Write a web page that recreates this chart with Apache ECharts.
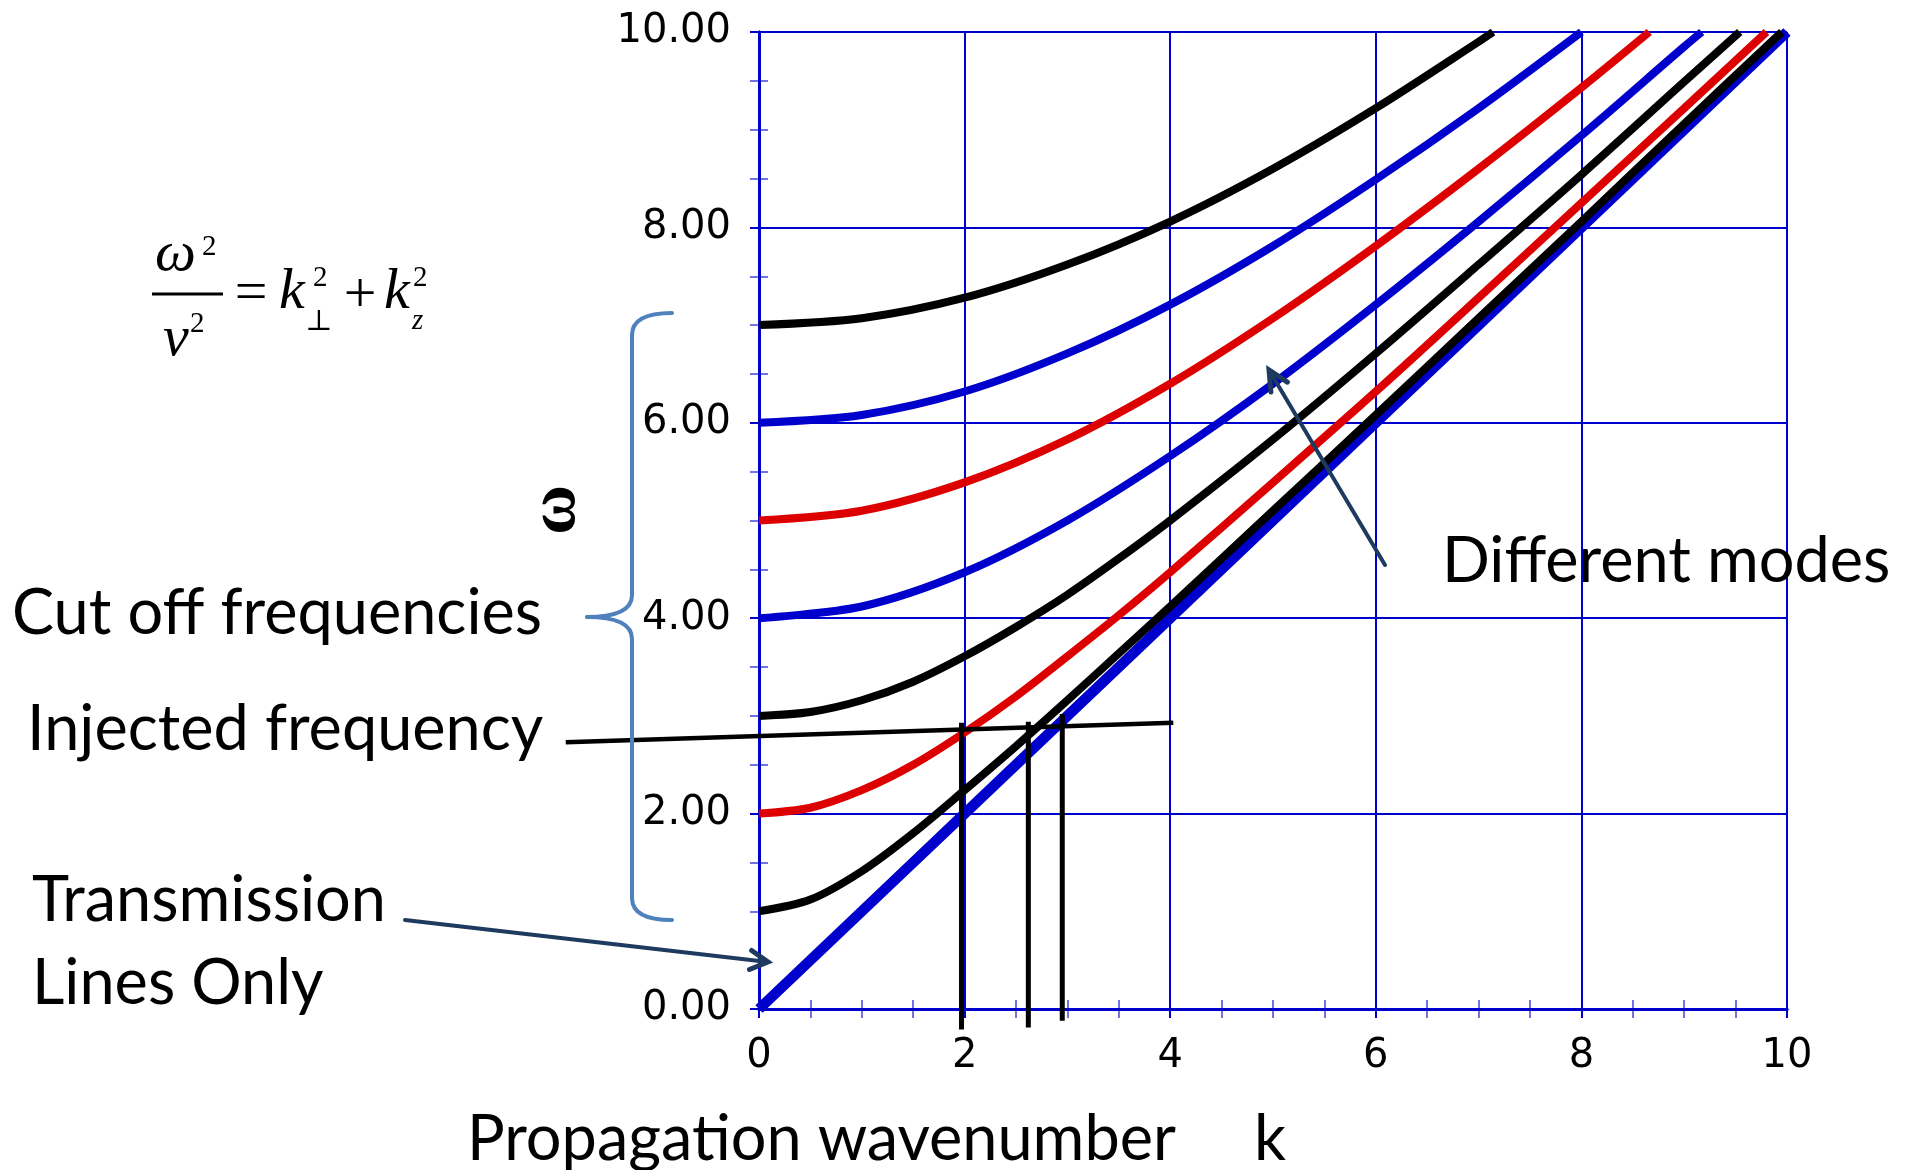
<!DOCTYPE html>
<html><head><meta charset="utf-8">
<script src="https://cdn.jsdelivr.net/npm/echarts@6/dist/echarts.min.js"></script>
<style>html,body{margin:0;padding:0;background:#fff}#c{width:1913px;height:1170px}</style>
</head><body><div id="c"></div>
<script>
// ---- data ----
const mode0K = [0, 2, 4, 6, 8, 10];
const mode0W = [0, 2, 4, 6, 8, 10];
const mode1K = [0, 0.5, 1, 1.5, 2, 2.5, 3, 3.5, 4, 5, 6, 7, 8, 9, 9.95];
const mode1W = [1, 1.12, 1.41, 1.80, 2.24, 2.69, 3.16, 3.64, 4.12, 5.10, 6.08, 7.07, 8.06, 9.06, 10];
const mode2K = [0, 0.5, 1, 1.5, 2, 2.5, 3, 3.5, 4, 5, 6, 7, 8, 9, 9.8];
const mode2W = [2, 2.06, 2.24, 2.50, 2.83, 3.20, 3.61, 4.03, 4.47, 5.39, 6.32, 7.28, 8.25, 9.22, 10];
const mode3K = [0, 0.5, 1, 1.5, 2, 2.5, 3, 3.5, 4, 5, 6, 7, 8, 9, 9.54];
const mode3W = [3, 3.04, 3.16, 3.35, 3.61, 3.91, 4.24, 4.61, 5.00, 5.83, 6.71, 7.62, 8.54, 9.49, 10];
const mode4K = [0, 1, 2, 3, 4, 5, 6, 7, 8, 9, 9.17];
const mode4W = [4, 4.12, 4.47, 5.00, 5.66, 6.40, 7.21, 8.06, 8.94, 9.85, 10];
const mode5K = [0, 1, 2, 3, 4, 5, 6, 7, 8, 8.66];
const mode5W = [5, 5.10, 5.39, 5.83, 6.40, 7.07, 7.81, 8.60, 9.43, 10];
const mode6K = [0, 1, 2, 3, 4, 5, 6, 7, 8];
const mode6W = [6, 6.08, 6.32, 6.71, 7.21, 7.81, 8.49, 9.22, 10];
const mode7K = [0, 1, 2, 3, 4, 5, 6, 7, 7.14];
const mode7W = [7, 7.07, 7.28, 7.62, 8.06, 8.60, 9.22, 9.90, 10];
const modeColors = ['#0000CC', '#000000', '#DD0000', '#000000', '#0000CC', '#DD0000', '#0000CC', '#000000'];

// injected frequency line and the three wavenumber markers
const injK = [-1.88, 4.03];
const injW = [2.73, 2.93];
const markK = [1.97, 2.62, 2.95];
const markTop = [2.93, 2.94, 3.02];
const markBottom = [-0.21, -0.19, -0.12];

const xMin = 0, xMax = 10, xStep = 2;
const yMin = 0, yMax = 10, yStep = 2;

// ---- build ----
const modesK = [mode0K, mode1K, mode2K, mode3K, mode4K, mode5K, mode6K, mode7K];
const modesW = [mode0W, mode1W, mode2W, mode3W, mode4W, mode5W, mode6W, mode7W];
const pair = (a, b) => a.map((v, i) => [v, b[i]]);

const BLUE = '#0000CC';
const series = modesK.map((ks, i) => ({
  type: 'line', name: 'mode' + i, data: pair(ks, modesW[i]),
  smooth: 0.3, showSymbol: false, symbol: 'none', clip: false,
  lineStyle: { color: modeColors[i], width: i === 0 ? 10.5 : 8 }, z: 3
}));
markK.forEach((k, i) => series.push({
  type: 'line', data: [[k, markTop[i]], [k, markBottom[i]]], showSymbol: false, symbol: 'none', clip: false,
  lineStyle: { color: '#000', width: 5 }, z: 5
}));

const tickFont = { fontFamily: 'DejaVu Sans', fontSize: 40, color: '#000' };
const mirrorAxis = {
  axisLine: { show: true, lineStyle: { color: BLUE, width: 3 } },
  axisTick: { show: true, inside: true, length: 9, lineStyle: { color: BLUE, width: 2 } },
  minorTick: { show: true, splitNumber: 4, length: 9, lineStyle: { color: 'rgba(0,0,204,0.55)', width: 2 } },
  axisLabel: { show: false }, splitLine: { show: false }
};

function arrow(x1, y1, x2, y2, len, ang, color, w) {
  const a = Math.atan2(y2 - y1, x2 - x1);
  const p1 = [x2 - len * Math.cos(a - ang), y2 - len * Math.sin(a - ang)];
  const p2 = [x2 - len * Math.cos(a + ang), y2 - len * Math.sin(a + ang)];
  return [
    { type: 'line', shape: { x1, y1, x2, y2 }, style: { stroke: color, lineWidth: w, lineCap: 'round' }, z: 20 },
    { type: 'polyline', shape: { points: [p1, [x2, y2], p2] }, style: { stroke: color, lineWidth: w + 1, fill: null, lineJoin: 'miter', lineCap: 'round' }, z: 20 }
  ];
}
const SANS = 'Lato';
const SERIF = '"Liberation Serif", "DejaVu Serif", serif';
function txt(text, x, y, size, opts) {
  return { type: 'text', z: 20, style: Object.assign({
    text, x, y, fontSize: size, fontFamily: SANS, fill: '#000', align: 'left', verticalAlign: 'middle'
  }, opts || {}) };
}
const braceStyle = { stroke: '#4F81BD', lineWidth: 4, fill: null, lineCap: 'round' };
function bz(x1, y1, cx, cy, x2, y2) {
  return { type: 'bezierCurve', z: 20, shape: { x1, y1, cpx1: cx, cpy1: cy, x2, y2 }, style: braceStyle };
}
function ln(x1, y1, x2, y2) {
  return { type: 'line', z: 20, shape: { x1, y1, x2, y2 }, style: braceStyle };
}

const graphic = [
  // formula
  txt('ω', 155, 255, 58, { fontFamily: SERIF, fontStyle: 'italic' }),
  txt('2', 202, 247, 29, { fontFamily: SERIF }),
  { type: 'line', shape: { x1: 152, y1: 294, x2: 223, y2: 294 }, style: { stroke: '#000', lineWidth: 3 }, z: 20 },
  txt('v', 163, 340, 58, { fontFamily: SERIF, fontStyle: 'italic' }),
  txt('2', 190, 324, 29, { fontFamily: SERIF }),
  txt('=', 251, 295, 58, { fontFamily: SERIF, align: 'center' }),
  txt('k', 279, 293, 58, { fontFamily: SERIF, fontStyle: 'italic' }),
  txt('2', 313, 278, 29, { fontFamily: SERIF }),
  txt('⊥', 319, 322, 29, { fontFamily: SERIF, align: 'center' }),
  txt('+', 360, 297, 58, { fontFamily: SERIF, align: 'center' }),
  txt('k', 384, 293, 58, { fontFamily: SERIF, fontStyle: 'italic' }),
  txt('2', 413, 278, 29, { fontFamily: SERIF }),
  txt('z', 412, 321, 29, { fontFamily: SERIF, fontStyle: 'italic' }),
  // brace
  bz(672, 313, 632, 313, 632, 335),
  ln(632, 335, 632, 595),
  bz(632, 595, 632, 617, 587, 617),
  bz(587, 617, 632, 617, 632, 639),
  ln(632, 639, 632, 898),
  bz(632, 898, 632, 920, 672, 920),
  // labels
  txt('Cut off frequencies', 12, 614, 63),
  txt('Injected frequency', 27, 730, 63),
  txt('Transmission', 32, 901, 63),
  txt('Lines Only', 32, 984, 63),
  txt('Different modes', 1442, 562, 63),
  txt('Propagation wavenumber', 467, 1140, 63),
  txt('k', 1254, 1140, 63),
  { type: 'text', z: 20, x: 556, y: 510, rotation: Math.PI / 2,
    style: { text: 'ω', x: 0, y: 0, fontSize: 68, fontFamily: SERIF, fontWeight: 'bold', fill: '#000', align: 'center', verticalAlign: 'middle' } }
].concat(
  arrow(405, 920, 768, 962, 20, 0.5, '#1F3A5F', 4),
  arrow(1385, 565, 1269, 370, 22, 0.45, '#1F3A5F', 4)
);

const chart = echarts.init(document.getElementById('c'), null, { renderer: 'canvas' });
chart.setOption({
  animation: false,
  backgroundColor: '#fff',
  grid: { left: 759, top: 32, right: 126, bottom: 161, containLabel: false },
  xAxis: [
    { type: 'value', min: xMin, max: xMax, interval: xStep, position: 'bottom',
      axisLine: { show: true, onZero: false, lineStyle: { color: BLUE, width: 3 } },
      axisTick: { show: true, inside: true, length: 9, lineStyle: { color: BLUE, width: 2 } },
      minorTick: { show: true, splitNumber: 4, length: 9, lineStyle: { color: 'rgba(0,0,204,0.55)', width: 2 } },
      axisLabel: Object.assign({ margin: 28 }, tickFont),
      splitLine: { show: true, lineStyle: { color: BLUE, width: 2 } } },
    Object.assign({ type: 'value', min: xMin, max: xMax, interval: xStep, position: 'top' }, mirrorAxis)
  ],
  yAxis: [
    { type: 'value', min: yMin, max: yMax, interval: yStep, position: 'left',
      axisLine: { show: true, onZero: false, lineStyle: { color: BLUE, width: 3 } },
      axisTick: { show: true, inside: true, length: 9, lineStyle: { color: BLUE, width: 2 } },
      minorTick: { show: true, splitNumber: 4, length: 9, lineStyle: { color: 'rgba(0,0,204,0.55)', width: 2 } },
      axisLabel: Object.assign({ margin: 28, formatter: v => v.toFixed(2) }, tickFont),
      splitLine: { show: true, lineStyle: { color: BLUE, width: 2 } } },
    Object.assign({ type: 'value', min: yMin, max: yMax, interval: yStep, position: 'right' }, mirrorAxis)
  ],
  series: series,
  graphic: graphic
});

// injected-frequency line: placed through the axes' own scales (it extends left of k = 0)
const injPts = pair(injK, injW).map(p => chart.convertToPixel({ gridIndex: 0 }, p));
graphic.push({ type: 'polyline', z: 15, shape: { points: injPts }, style: { stroke: '#000', lineWidth: 4.5, fill: null } });
chart.setOption({ graphic: graphic });
</script></body></html>
